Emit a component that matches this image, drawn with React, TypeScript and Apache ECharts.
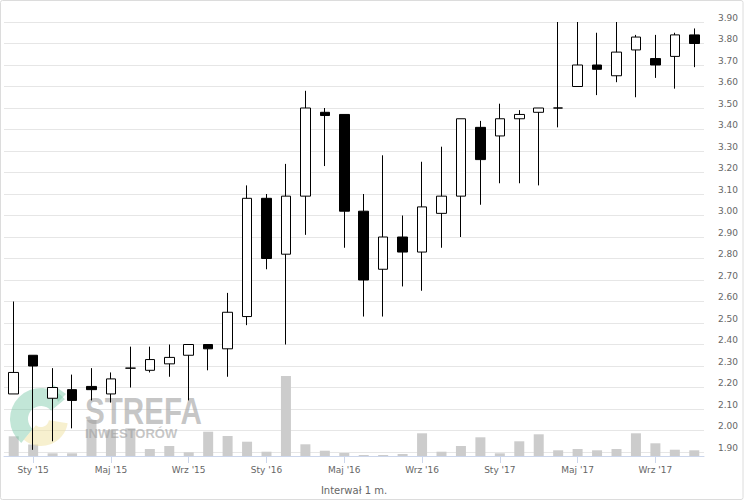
import React, { useEffect, useRef } from "react";
import * as echarts from "echarts";

const categories = [
  "Gru '14", "Sty '15", "Lut '15", "Mar '15", "Kwi '15", "Maj '15", "Cze '15", "Lip '15", "Sie '15", "Wrz '15", "Paź '15", "Lis '15",
  "Gru '15", "Sty '16", "Lut '16", "Mar '16", "Kwi '16", "Maj '16", "Cze '16", "Lip '16", "Sie '16", "Wrz '16", "Paź '16", "Lis '16",
  "Gru '16", "Sty '17", "Lut '17", "Mar '17", "Kwi '17", "Maj '17", "Cze '17", "Lip '17", "Sie '17", "Wrz '17", "Paź '17", "Lis '17",
];

const opens = [
  2.17, 2.35, 2.15, 2.19, 2.205, 2.17, 2.29, 2.28, 2.31, 2.35, 2.40, 2.38,
  2.53, 3.08, 2.82, 3.09, 3.48, 3.47, 3.02, 2.75, 2.90, 2.83, 3.01, 3.09,
  3.41, 3.37, 3.45, 3.48, 3.50, 3.60, 3.70, 3.65, 3.77, 3.73, 3.74, 3.84,
];
const closes = [
  2.27, 2.30, 2.20, 2.14, 2.19, 2.24, 2.29, 2.33, 2.34, 2.40, 2.38, 2.55,
  3.08, 2.80, 3.09, 3.50, 3.465, 3.02, 2.70, 2.90, 2.83, 3.04, 3.09, 3.45,
  3.26, 3.45, 3.47, 3.50, 3.50, 3.70, 3.68, 3.76, 3.83, 3.70, 3.84, 3.80,
];
const lows = [
  2.17, 1.91, 1.95, 2.01, 2.14, 2.13, 2.20, 2.27, 2.25, 2.14, 2.28, 2.25,
  2.49, 2.75, 2.40, 2.91, 3.23, 2.85, 2.53, 2.53, 2.67, 2.65, 2.85, 2.90,
  3.05, 3.15, 3.15, 3.14, 3.41, 3.60, 3.56, 3.62, 3.55, 3.64, 3.59, 3.69,
];
const highs = [
  2.60, 2.35, 2.29, 2.26, 2.29, 2.27, 2.39, 2.39, 2.40, 2.40, 2.40, 2.64,
  3.14, 3.10, 3.24, 3.58, 3.50, 3.47, 3.10, 3.28, 3.00, 3.25, 3.32, 3.45,
  3.44, 3.52, 3.49, 3.50, 3.90, 3.90, 3.85, 3.90, 3.84, 3.84, 3.85, 3.87,
];
const volumes = [
  197, 115, 27, 27, 360, 260, 277, 70, 100, 37, 243, 200,
  143, 43, 800, 117, 53, 30, 10, 10, 20, 227, 43, 100,
  187, 27, 147, 217, 57, 70, 57, 70, 227, 127, 63, 57,
];

const priceMin = 1.9;
const priceMax = 3.9;
const priceStep = 0.1;
const axisTitle = "Interwał 1 m.";

export default function App() {
  const ref = useRef<HTMLDivElement>(null);

  useEffect(() => {
    document.body.style.margin = "0";
    if (!ref.current) return;
    const chart = echarts.init(ref.current, null, { renderer: "svg" });
    const candleData = categories.map((_, i) => [opens[i], closes[i], lows[i], highs[i]]);
    const labelEvery = (index: number) => (index - 1) % 4 === 0;
    const font = "'DejaVu Sans', sans-serif";

    chart.setOption({
      animation: false,
      backgroundColor: "#ffffff",
      grid: [
        { left: 4, right: 40, top: 22, bottom: 50 },
        { left: 4, right: 40, top: 356, bottom: 46 },
      ],
      xAxis: [
        {
          type: "category",
          gridIndex: 0,
          data: categories,
          boundaryGap: true,
          show: false,
        },
        {
          type: "category",
          gridIndex: 1,
          data: categories,
          boundaryGap: true,
          axisLine: { show: true, lineStyle: { color: "#ccd6eb", width: 1 } },
          axisTick: {
            show: true,
            alignWithLabel: true,
            interval: labelEvery,
            length: 7,
            lineStyle: { color: "#ccd6eb" },
          },
          axisLabel: {
            interval: labelEvery,
            color: "#666666",
            fontSize: 9,
            fontFamily: font,
            margin: 9,
          },
          name: axisTitle,
          nameLocation: "middle",
          nameGap: 29,
          nameTextStyle: { color: "#666666", fontSize: 10, fontFamily: font },
        },
      ],
      yAxis: [
        {
          type: "value",
          gridIndex: 0,
          position: "right",
          min: priceMin,
          max: priceMax,
          interval: priceStep,
          axisLine: { show: false },
          axisTick: { show: false },
          splitLine: { show: true, lineStyle: { color: "#e6e6e6", width: 1 } },
          axisLabel: {
            color: "#666666",
            fontSize: 9,
            fontFamily: font,
            margin: 14,
            verticalAlign: "bottom",
            formatter: (v: number) => v.toFixed(2),
          },
        },
        {
          type: "value",
          gridIndex: 1,
          min: 0,
          max: 1000,
          show: false,
          splitLine: { show: false },
        },
      ],
      graphic: [
        {
          type: "rect",
          z: 0,
          shape: { x: 0.5, y: 0.5, width: 742.5, height: 499, r: 2 },
          style: { fill: "none", stroke: "#dcdcdc", lineWidth: 1 },
          silent: true,
        },
        {
          type: "sector",
          z: 2,
          shape: { cx: 41, cy: 419, r: 31, r0: 13, startAngle: Math.PI * 0.72, endAngle: Math.PI * 1.78 },
          style: { fill: "rgba(110, 195, 160, 0.42)" },
          silent: true,
        },
        {
          type: "polygon",
          z: 2,
          shape: { points: [[52, 384], [66, 394], [58, 402]] },
          style: { fill: "rgba(110, 195, 160, 0.42)" },
          silent: true,
        },
        {
          type: "sector",
          z: 2,
          shape: { cx: 41, cy: 419, r: 27, r0: 8, startAngle: Math.PI * 0.05, endAngle: Math.PI * 0.72 },
          style: { fill: "rgba(240, 225, 160, 0.5)" },
          silent: true,
        },
        {
          type: "text",
          z: 2,
          x: 85,
          y: 393,
          scaleX: 0.8,
          style: {
            text: "STREFA",
            fill: "rgba(160, 160, 160, 0.6)",
            font: "bold 37px 'Liberation Sans', Arial, sans-serif",
            textVerticalAlign: "top",
          },
          silent: true,
        },
        {
          type: "text",
          z: 2,
          x: 85,
          y: 427,
          style: {
            text: "INWESTORÓW",
            fill: "rgba(160, 160, 160, 0.6)",
            font: "bold 13px 'Liberation Sans', Arial, sans-serif",
            textVerticalAlign: "top",
          },
          silent: true,
        },
      ],
      series: [
        {
          type: "bar",
          xAxisIndex: 1,
          yAxisIndex: 1,
          data: volumes,
          barWidth: 10,
          z: 1,
          itemStyle: { color: "#cccccc" },
          silent: true,
        },
        {
          type: "candlestick",
          xAxisIndex: 0,
          yAxisIndex: 0,
          data: candleData,
          barWidth: 10,
          z: 3,
          itemStyle: {
            color: "#ffffff",
            color0: "#000000",
            borderColor: "#000000",
            borderColor0: "#000000",
            borderWidth: 1,
          },
          silent: true,
        },
      ],
    });

    return () => chart.dispose();
  }, []);

  return (
    <div
      ref={ref}
      style={{ position: "absolute", left: 0, top: 0, width: 744, height: 502 }}
    />
  );
}
